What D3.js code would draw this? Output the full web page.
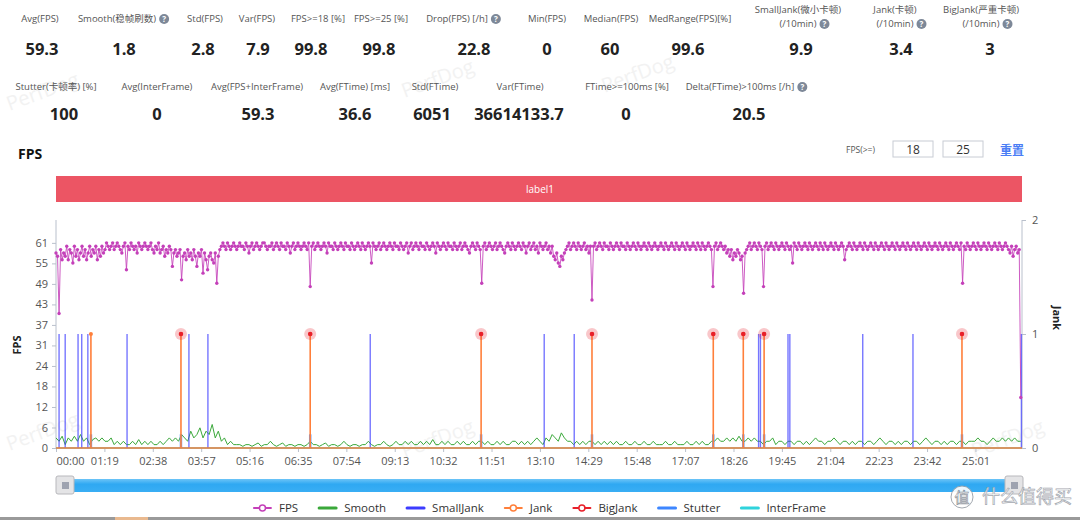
<!DOCTYPE html>
<html>
<head>
<meta charset="utf-8">
<script src="https://cdn.jsdelivr.net/npm/d3@7"></script>
<style>
  body { margin: 0; background: #fff; }
  svg { font-family: "Open Sans", "Noto Sans", "Noto Sans CJK SC", sans-serif; }
</style>
</head>
<body>
<svg id="chart" width="1080" height="520"></svg>
<script>
// ---- summary numbers ----
const statLabels1 = ["Avg(FPS)", "Smooth(稳帧刷数)", "Std(FPS)", "Var(FPS)", "FPS>=18 [%]", "FPS>=25 [%]",
  "Drop(FPS) [/h]", "Min(FPS)", "Median(FPS)", "MedRange(FPS)[%]",
  "SmallJank(微小卡顿)\n(/10min)", "Jank(卡顿)\n(/10min)", "BigJank(严重卡顿)\n(/10min)"];
const statValues1 = ["59.3", "1.8", "2.8", "7.9", "99.8", "99.8", "22.8", "0", "60", "99.6", "9.9", "3.4", "3"];
const statHelp1 = [0, 1, 0, 0, 0, 0, 1, 0, 0, 0, 1, 1, 1];

const statLabels2 = ["Stutter(卡顿率) [%]", "Avg(InterFrame)", "Avg(FPS+InterFrame)", "Avg(FTime) [ms]",
  "Std(FTime)", "Var(FTime)", "FTime>=100ms [%]", "Delta(FTime)>100ms [/h]"];
const statValues2 = ["100", "0", "59.3", "36.6", "6051", "36614133.7", "0", "20.5"];
const statHelp2 = [0, 0, 0, 0, 0, 0, 0, 1];

// ---- series ----
const fpsStep = 2.5; // seconds between FPS samples
const fps = [
  58,57,40,59,56,58,57,60,56,59,58,55,60,57,59,56,58,60,57,59,
  56,58,60,57,59,58,60,56,59,57,60,58,59,61,60,59,60,61,59,60,
  61,60,59,58,60,61,53,60,59,61,60,59,60,58,61,60,59,60,61,60,
  59,60,61,59,58,60,59,61,58,59,60,57,59,58,60,59,54,58,59,57,
  58,59,50,57,58,56,59,57,58,56,59,57,54,58,57,59,52,58,56,53,
  57,58,56,55,58,49,57,59,60,61,60,59,61,60,59,60,61,60,59,60,
  61,60,60,59,61,60,58,60,61,59,60,61,60,59,60,61,61,60,59,60,
  60,61,59,60,61,60,59,61,60,60,59,61,60,58,60,61,59,60,61,60,
  59,60,61,60,59,61,48,60,61,59,60,61,60,59,60,61,60,58,61,60,
  60,59,61,60,59,60,61,60,59,61,60,60,59,61,60,59,60,61,60,59,
  61,60,59,60,61,60,55,61,60,59,60,61,59,60,61,60,59,60,61,60,
  59,61,60,60,59,61,60,59,60,61,58,60,61,59,60,61,60,59,61,60,
  60,59,61,60,59,60,61,60,58,61,60,59,60,61,60,59,61,60,60,59,
  61,60,59,60,61,59,60,61,60,59,58,60,61,60,59,61,60,59,49,60,
  61,59,60,61,60,59,60,61,59,60,61,60,59,58,60,61,60,59,61,60,
  59,60,61,60,59,61,60,58,60,61,59,60,61,59,60,58,61,60,59,60,
  61,59,60,58,60,57,56,58,55,54,57,56,58,59,60,61,59,60,61,60,
  59,61,60,59,60,61,59,60,58,60,44,60,61,59,60,61,60,59,61,60,
  60,59,61,60,59,60,61,60,59,61,60,60,59,61,60,59,60,61,60,59,
  61,60,59,60,61,60,59,61,60,59,60,61,60,59,60,61,60,59,61,60,
  59,60,61,60,59,61,60,59,60,61,60,59,61,60,59,60,61,60,59,61,
  60,59,61,60,59,60,61,60,59,48,60,61,59,60,61,60,59,60,58,59,
  57,59,56,58,57,59,58,56,57,46,58,59,60,61,59,60,61,60,59,61,
  60,59,48,60,61,59,60,61,60,59,61,60,59,60,61,60,59,61,60,59,
  60,55,61,60,59,61,60,59,60,61,60,59,61,60,59,60,61,60,59,61,
  60,59,61,60,59,60,61,60,59,61,60,59,60,61,60,56,59,60,61,60,
  59,61,60,59,60,61,60,59,61,60,59,60,61,60,59,61,60,59,60,61,
  60,59,61,60,59,60,61,60,59,61,60,59,60,61,60,59,61,60,59,60,
  61,60,59,61,60,59,60,61,60,59,61,60,59,60,61,60,59,61,60,59,
  60,61,60,59,61,60,59,60,61,60,59,61,49,60,59,61,60,59,60,61,
  60,59,61,60,59,60,61,60,59,61,60,59,60,61,60,59,61,60,59,60,
  61,60,59,58,60,57,59,60,58,59,15
];
const smoothStep = 5;
const smooth = [
  3,2,3.5,1,3,2,3.5,2,4,2,3,1,2.5,3,2,3,2,2,3,1,
  2,1,2,1,1,2,1,2.5,1,2,1,2,1,1,2,1,2,3,2,3,
  2,4,3,2,5,3,4,6,3,5,4,7,3,5,2,3,1,2,1,1,
  1,0.5,1,1,0.5,1,1.5,0.5,1,1,2,1,0.5,1,1.5,0.5,1,1,0.5,1,
  1,0.5,1,2,1,1,0.5,1,1.5,0.5,1,1,0.5,1,2,1,0.5,1,1,0.5,
  1,1,2,1,0.5,1,1,2,1,0.5,1,2,1,1,2,1,2,1,1,2,
  1,2,1,2.5,1,1,2,1,2,1,1,2,1,2,1,1,2,1,2,2,
  1,2,1,1,2,1,2,1,1,2,2,1,2,1,2,1,2,3,2,1,
  3,2,4,3,2,4.5,3,2,2,1,2,1,2,1,2,2,1,2,1,2,
  1,2,1,2,1,1,2,1,1,2,1,1,2,1,1,2,1,1,1,2,
  1,1,2,1,1,1,2,1,1,2,1,2,1,1,2,2,3,2,2,3,
  2,3,2,3.5,2,2,3,2,3,2,2,1,2,2,3,1,2,2,1,2,
  2,1,2,2,1,2,1,2,3,2,2,1,2,2,3,2,1,2,2,1,
  2,1,2,2,1,2,2,1,2,3,2,1,2,2,1,2,1,2,2,1,
  2,2,1,2,3,2,1,2,2,1,2,1,2,2,1,2,2,1,2,2,
  2,3,2,2,1,2,3,2,2,3,2,3,2,3,2,2
];
// event times in seconds (right axis value 1)
const smallJankTimes = [5, 15, 36, 42, 52, 116, 217, 248, 513, 797, 846, 1147, 1150, 1195, 1198, 1317, 1399, 1576];
const jankTimes = [57, 204, 415, 694, 875, 1073, 1122, 1156, 1479];
const bigJankTimes = [204, 415, 694, 875, 1073, 1122, 1156, 1479];
const stutterTimes = [57, 204, 415, 694, 875, 1073, 1122, 1156, 1479];
const stutterValue = 0.12;
const timeEnd = 1577;

// ---- axes ----
const fpsTickLabels = ["0", "6", "12", "18", "24", "31", "37", "43", "49", "55", "61"];
const jankTickLabels = ["0", "1", "2"];
const timeTickLabels = ["00:00", "01:19", "02:38", "03:57", "05:16", "06:35", "07:54", "09:13", "10:32", "11:51",
  "13:10", "14:29", "15:48", "17:07", "18:26", "19:45", "21:04", "22:23", "23:42", "25:01"];
const timeTickStep = 79;

const legendNames = ["FPS", "Smooth", "SmallJank", "Jank", "BigJank", "Stutter", "InterFrame"];
const legendColors = ["#c440b9", "#3aa83a", "#3c3cff", "#ff7f3a", "#e8202a", "#3d86ff", "#2fd3dc"];
const legendMarker = [1, 0, 0, 1, 1, 0, 0];

const svg = d3.select("#chart");

// ---- stats block ----
function helpIcon(g, cx, cy) {
  g.append("circle").attr("cx", cx).attr("cy", cy).attr("r", 5).attr("fill", "#7d8898");
  g.append("text").attr("x", cx).attr("y", cy + 3).attr("text-anchor", "middle")
    .attr("font-size", 8).attr("font-weight", "bold").attr("fill", "#fff").text("?");
}

function statRow(labels, values, help, labelX, valueX, labelY, valueY) {
  const g = svg.append("g");
  labels.forEach((lab, i) => {
    const lines = lab.split("\n");
    lines.forEach((ln, k) => {
      const yy = lines.length > 1 ? labelY - 9 + k * 14 : labelY;
      const t = g.append("text").attr("x", labelX[i]).attr("y", yy).attr("text-anchor", "middle")
        .attr("font-size", 9.5).attr("fill", "#555").text(ln);
      if (help[i] && k == lines.length - 1) {
        const w = t.node().getComputedTextLength();
        helpIcon(g, labelX[i] + w / 2 + 8, yy - 3);
      }
    });
    g.append("text").attr("x", valueX[i]).attr("y", valueY).attr("text-anchor", "middle")
      .attr("font-size", 16.5).attr("font-weight", "bold").attr("fill", "#222").text(values[i]);
  });
}

// faint watermarks
[[45, 98], [440, 85], [640, 80], [45, 438], [440, 445], [1010, 445]].forEach(p => {
  svg.append("text").attr("transform", `translate(${p[0]},${p[1]}) rotate(-20)`)
    .attr("text-anchor", "middle").attr("font-size", 20).attr("fill", "#f2f2f2").text("PerfDog");
});

statRow(statLabels1, statValues1, statHelp1,
  [40, 117, 205, 257, 318, 381, 457, 547, 611, 690, 798, 895, 981],
  [42, 124, 203, 258, 311, 379, 474, 547, 610, 688, 801, 901, 990], 22, 55);
statRow(statLabels2, statValues2, statHelp2,
  [56, 157, 257, 355, 435, 520, 627, 740],
  [64, 157, 258, 355, 432, 519, 626, 749], 90, 120);

// ---- header ----
svg.append("text").attr("x", 18).attr("y", 159).attr("font-size", 14).attr("font-weight", "bold")
  .attr("fill", "#111").text("FPS");
svg.append("text").attr("x", 846).attr("y", 153).attr("font-size", 8.5).attr("fill", "#555").text("FPS(>=)");
[[893, "18"], [943, "25"]].forEach(b => {
  svg.append("rect").attr("x", b[0]).attr("y", 141).attr("width", 40).attr("height", 16)
    .attr("fill", "#fff").attr("stroke", "#c8ccd4");
  svg.append("text").attr("x", b[0] + 20).attr("y", 154).attr("text-anchor", "middle")
    .attr("font-size", 12).attr("fill", "#333").text(b[1]);
});
svg.append("text").attr("x", 1000).attr("y", 155).attr("font-size", 12).attr("font-weight", "bold")
  .attr("fill", "#4a7df5").text("重置");

// red label band
svg.append("rect").attr("x", 56).attr("y", 176).attr("width", 966).attr("height", 26).attr("fill", "#ec5564");
svg.append("text").attr("x", 540).attr("y", 193).attr("text-anchor", "middle").attr("font-size", 10)
  .attr("fill", "#fff").text("label1");

// ---- plot ----
const x = d3.scaleLinear().domain([0, timeEnd]).range([56, 1022]);
const yL = d3.scaleLinear().domain([0, 67.8]).range([448, 220]);
const yR = d3.scaleLinear().domain([0, 2]).range([448, 220]);

const axisColor = "#b9c0cc";
const leftAxis = d3.axisLeft(yL).tickValues(fpsTickLabels.map((d, i) => i * 6.1))
  .tickFormat((d, i) => fpsTickLabels[i]).tickSize(4).tickPadding(4);
const gl = svg.append("g").attr("transform", "translate(56,0)").call(leftAxis);
gl.select(".domain").attr("d", "M0,448V220").attr("stroke", axisColor);

const rightAxis = d3.axisRight(yR).tickValues(jankTickLabels.map((d, i) => i))
  .tickFormat((d, i) => jankTickLabels[i]).tickSize(4).tickPadding(6);
const gr = svg.append("g").attr("transform", "translate(1022,0)").call(rightAxis);
gr.select(".domain").attr("d", "M0,448V220").attr("stroke", axisColor);

const bottomAxis = d3.axisBottom(x).tickValues(timeTickLabels.map((d, i) => i * timeTickStep))
  .tickFormat((d, i) => timeTickLabels[i]).tickSize(4).tickPadding(5);
const gb = svg.append("g").attr("transform", "translate(0,448)").call(bottomAxis);
gb.select(".domain").attr("d", "M56,0H1022").attr("stroke", axisColor);
gb.select(".tick text").attr("text-anchor", "start");

[gl, gr, gb].forEach(g => {
  g.selectAll(".tick line").attr("stroke", axisColor);
  g.selectAll(".tick text").attr("fill", "#555").attr("font-size", 11)
    .attr("font-family", "\"Open Sans\", sans-serif");
});

svg.append("text").attr("transform", "translate(21,345) rotate(-90)").attr("text-anchor", "middle")
  .attr("font-size", 11).attr("font-weight", "bold").attr("fill", "#222").text("FPS");
svg.append("text").attr("transform", "translate(1053,318) rotate(90)").attr("text-anchor", "middle")
  .attr("font-size", 11).attr("font-weight", "bold").attr("fill", "#222").text("Jank");

const plot = svg.append("g");

// InterFrame (all zero)
plot.append("path").attr("d", `M${x(0)},${yR(0)}H${x(timeEnd)}`).attr("stroke", legendColors[6]).attr("stroke-width", 1.5);

// Smooth
const smoothLine = d3.line().x((d, i) => x(i * smoothStep)).y(d => yL(d));
plot.append("path").datum(smooth).attr("d", smoothLine).attr("fill", "none")
  .attr("stroke", legendColors[1]).attr("stroke-width", 1);

// SmallJank
plot.selectAll(".sj").data(smallJankTimes).join("line")
  .attr("x1", d => x(d)).attr("x2", d => x(d)).attr("y1", yR(0)).attr("y2", yR(1))
  .attr("stroke", legendColors[2]).attr("stroke-width", 1.4).attr("stroke-opacity", 0.7);

// Stutter
plot.selectAll(".st").data(stutterTimes).join("line")
  .attr("x1", d => x(d)).attr("x2", d => x(d)).attr("y1", yR(0)).attr("y2", yR(stutterValue))
  .attr("stroke", legendColors[5]).attr("stroke-width", 2.5).attr("stroke-opacity", 0.8);

// Jank baseline + spikes
plot.append("path").attr("d", `M${x(0)},${yR(0)}H${x(timeEnd)}`).attr("stroke", legendColors[3]).attr("stroke-width", 1.6);
plot.selectAll(".jk").data(jankTimes).join("line")
  .attr("x1", d => x(d)).attr("x2", d => x(d)).attr("y1", yR(0)).attr("y2", yR(1))
  .attr("stroke", legendColors[3]).attr("stroke-width", 1.6);
plot.selectAll(".jkm").data(jankTimes).join("circle")
  .attr("cx", d => x(d)).attr("cy", yR(1)).attr("r", 2).attr("fill", legendColors[3]);

// BigJank
plot.selectAll(".bjh").data(bigJankTimes).join("circle")
  .attr("cx", d => x(d)).attr("cy", yR(1)).attr("r", 6).attr("fill", "rgba(232,32,42,0.25)");
plot.selectAll(".bj").data(bigJankTimes).join("circle")
  .attr("cx", d => x(d)).attr("cy", yR(1)).attr("r", 2.3).attr("fill", legendColors[4]);

// FPS
const fpsLine = d3.line().x((d, i) => x(i * fpsStep)).y(d => yL(d));
plot.append("path").datum(fps).attr("d", fpsLine).attr("fill", "none")
  .attr("stroke", legendColors[0]).attr("stroke-width", 1).attr("stroke-opacity", 0.85);
plot.selectAll(".fp").data(fps).join("circle")
  .attr("cx", (d, i) => x(i * fpsStep)).attr("cy", d => yL(d)).attr("r", 1.7)
  .attr("fill", legendColors[0]);

// ---- slider ----
const sg = svg.append("g");
const grad = svg.append("defs").append("linearGradient").attr("id", "sl").attr("x1", 0).attr("x2", 0).attr("y1", 0).attr("y2", 1);
grad.append("stop").attr("offset", "0%").attr("stop-color", "#6cc4f7");
grad.append("stop").attr("offset", "40%").attr("stop-color", "#2fa8f2");
grad.append("stop").attr("offset", "100%").attr("stop-color", "#39aef4");
sg.append("rect").attr("x", 72).attr("y", 479).attr("width", 936).attr("height", 13).attr("fill", "url(#sl)");
[56, 1005].forEach(hx => {
  sg.append("rect").attr("x", hx).attr("y", 476).attr("width", 18).attr("height", 18).attr("rx", 2)
    .attr("fill", "#e4e4e6").attr("stroke", "#b8b8bc");
  sg.append("rect").attr("x", hx + 6).attr("y", 482).attr("width", 7).attr("height", 7).attr("fill", "#9ea3b0");
});

// ---- legend ----
const lg = svg.append("g");
let lx = 0;
legendNames.forEach((name, i) => {
  const it = lg.append("g");
  it.append("line").attr("x1", 0).attr("x2", 17).attr("y1", 0).attr("y2", 0)
    .attr("stroke", legendColors[i]).attr("stroke-width", legendMarker[i] ? 2 : 3).attr("stroke-linecap", "round");
  if (legendMarker[i]) {
    it.append("circle").attr("cx", 8.5).attr("cy", 0).attr("r", 3).attr("fill", "#fff")
      .attr("stroke", legendColors[i]).attr("stroke-width", 1.5);
  }
  const t = it.append("text").attr("x", 25).attr("y", 4).attr("font-size", 11.5).attr("fill", "#333").text(name);
  it.attr("transform", `translate(${lx},508)`);
  lx += 25 + t.node().getComputedTextLength() + 21;
});
lg.attr("transform", `translate(${540 - (lx - 21) / 2},0)`);

// ---- page decoration ----
svg.append("rect").attr("x", 0).attr("y", 517).attr("width", 1080).attr("height", 3).attr("fill", "#9a9a9a");
svg.append("rect").attr("x", 115).attr("y", 517).attr("width", 33).attr("height", 3).attr("fill", "#e9b98f");
const wm = svg.append("g").attr("opacity", 0.9);
wm.append("circle").attr("cx", 962).attr("cy", 497).attr("r", 11).attr("fill", "#fff").attr("stroke", "#9aa0a8");
wm.append("text").attr("x", 962).attr("y", 503).attr("text-anchor", "middle").attr("font-size", 15)
  .attr("fill", "#fff").attr("stroke", "#8a9098").attr("stroke-width", 0.7).text("值");
wm.append("text").attr("x", 982).attr("y", 503).attr("font-size", 18)
  .attr("font-family", "\"Noto Sans CJK SC\", sans-serif")
  .attr("fill", "#fff").attr("stroke", "#9aa0a8").attr("stroke-width", 0.7).text("什么值得买");
</script>
</body>
</html>
